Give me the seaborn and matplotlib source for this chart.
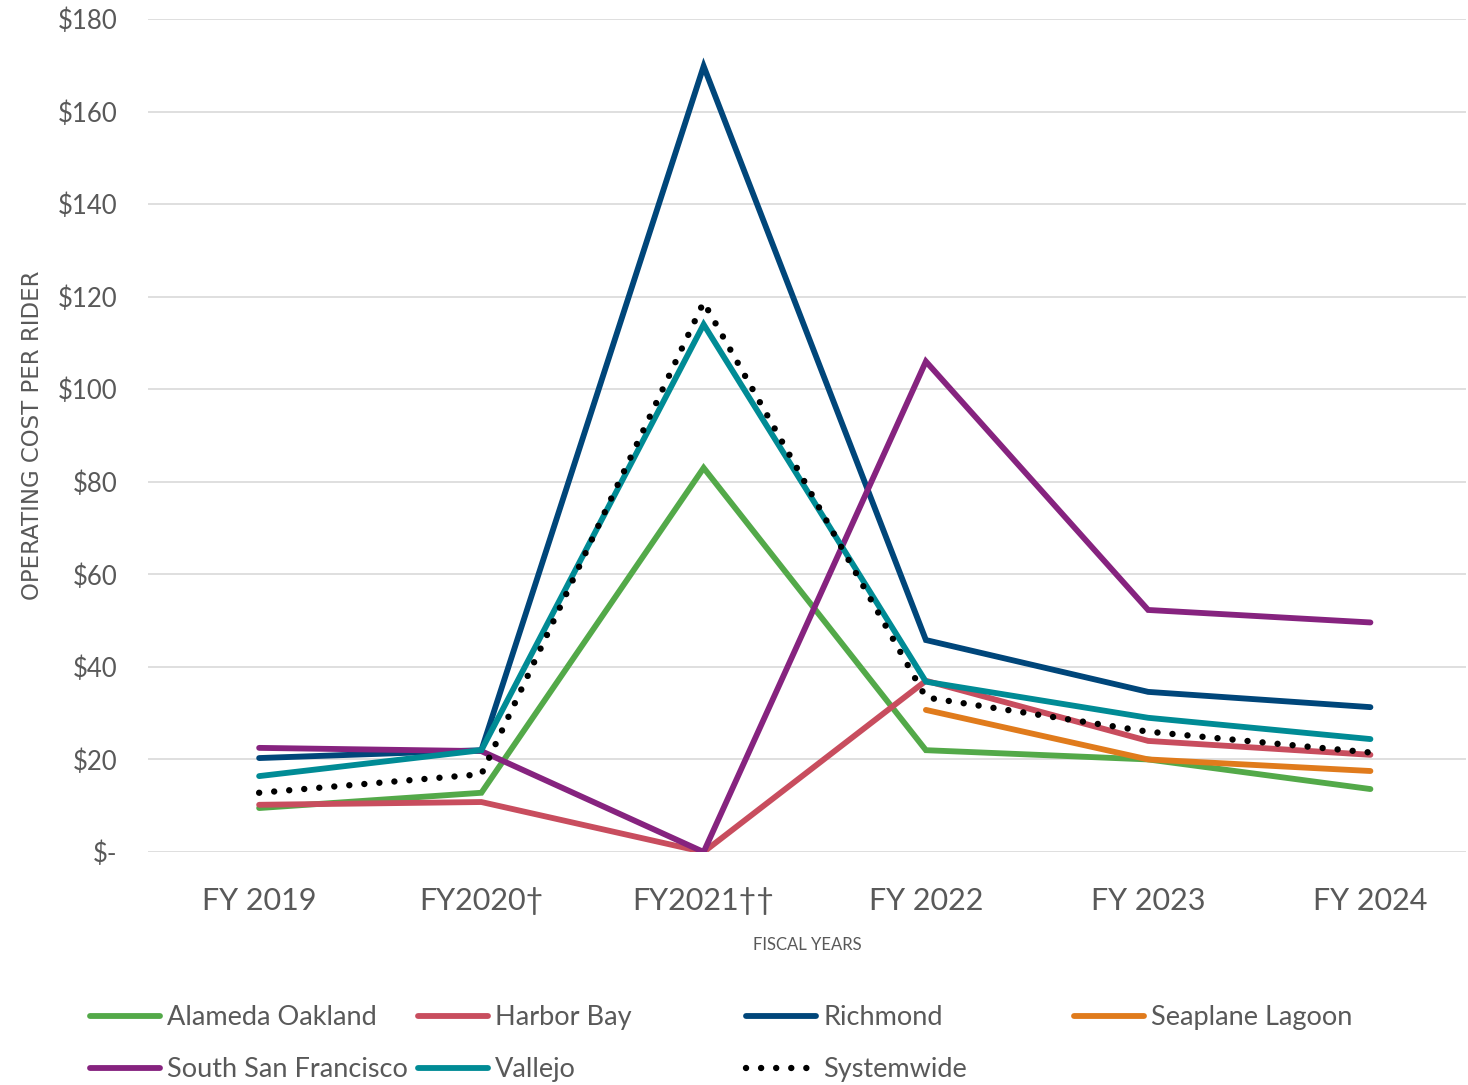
import matplotlib
matplotlib.use("Agg")
import matplotlib.pyplot as plt
import seaborn as sns
import numpy as np
import pandas as pd

# Fiscal years and operating cost per rider ($) by route
years = ["FY 2019", "FY2020\u2020", "FY2021\u2020\u2020", "FY 2022", "FY 2023", "FY 2024"]
alameda_oakland = [9.5, 12.8, 83.0, 22.0, 20.0, 13.6]
harbor_bay = [10.2, 10.8, 0.0, 37.0, 24.0, 21.0]
richmond = [20.3, 22.0, 169.8, 45.8, 34.6, 31.3]
seaplane_lagoon = [np.nan, np.nan, np.nan, 30.7, 20.0, 17.5]
south_san_francisco = [22.5, 21.8, 0.0, 106.0, 52.3, 49.6]
vallejo = [16.4, 22.0, 114.0, 36.8, 29.0, 24.4]
systemwide = [12.8, 16.8, 118.8, 33.4, 26.0, 21.5]

y_ticks = [0, 20, 40, 60, 80, 100, 120, 140, 160, 180]
y_tick_labels = ["$-", "$20", "$40", "$60", "$80", "$100", "$120", "$140", "$160", "$180"]

series = [
    ("Alameda Oakland", alameda_oakland, "#53A949"),
    ("Harbor Bay", harbor_bay, "#C84D5E"),
    ("Richmond", richmond, "#00467A"),
    ("Seaplane Lagoon", seaplane_lagoon, "#E07B1C"),
    ("South San Francisco", south_san_francisco, "#86237F"),
    ("Vallejo", vallejo, "#008B95"),
    ("Systemwide", systemwide, "#000000"),
]

sns.set_theme(style="white")
plt.rcParams["font.family"] = ["Lato", "DejaVu Sans"]
text_color = "#595959"

fig = plt.figure(figsize=(14.68, 10.85), dpi=100)
ax = fig.add_axes([148 / 1468, 1 - 852 / 1085, (1466 - 148) / 1468, (852 - 19) / 1085])

x_pos = np.arange(len(years))
handles = {}
for name, vals, color in series:
    df = pd.DataFrame({"x": x_pos, "y": vals})
    if name == "Systemwide":
        sns.lineplot(data=df, x="x", y="y", ax=ax, color=color, lw=4.6,
                     linestyle=(0, (0.01, 2.35)), dash_capstyle="round", label=name)
    else:
        sns.lineplot(data=df, x="x", y="y", ax=ax, color=color, lw=4.2,
                     solid_capstyle="round", solid_joinstyle="miter", label=name)
    handles[name] = ax.get_lines()[-1]
ax.get_legend().remove()

ax.set_xlim(-0.5, 5.43)
ax.set_ylim(0, 180)
ax.set_yticks(y_ticks)
ax.set_yticklabels(y_tick_labels)
ax.set_xticks(x_pos)
ax.set_xticklabels(years)
ax.yaxis.grid(True, color="#D9D9D9", lw=1.2)
ax.xaxis.grid(False)
ax.set_axisbelow(True)
for s in ax.spines.values():
    s.set_visible(False)
ax.tick_params(axis="y", length=0, pad=22, labelsize=18.5, labelcolor=text_color)
ax.tick_params(axis="x", length=0, pad=25, labelsize=22, labelcolor=text_color)

ax.set_xlabel("FISCAL YEARS", fontsize=12, color=text_color, labelpad=16)
ax.set_ylabel("OPERATING COST PER RIDER", fontsize=16.5, color=text_color,
              family=["Liberation Sans Narrow", "DejaVu Sans"], labelpad=10)

# Legend laid out in four columns
columns = [
    (["Alameda Oakland", "South San Francisco"], 90),
    (["Harbor Bay", "Vallejo"], 418),
    (["Richmond", "Systemwide"], 746),
    (["Seaplane Lagoon"], 1074),
]
for names, xpix in columns:
    leg = fig.legend([handles[n] for n in names], names, loc="upper left",
                     bbox_to_anchor=(xpix / 1468, 1 - 1005 / 1085), frameon=False,
                     fontsize=19.5, handlelength=2.6, handletextpad=0.25,
                     labelspacing=1.0, borderaxespad=0, borderpad=0)
    for t in leg.get_texts():
        t.set_color(text_color)

fig.savefig("out.png", dpi=100)
